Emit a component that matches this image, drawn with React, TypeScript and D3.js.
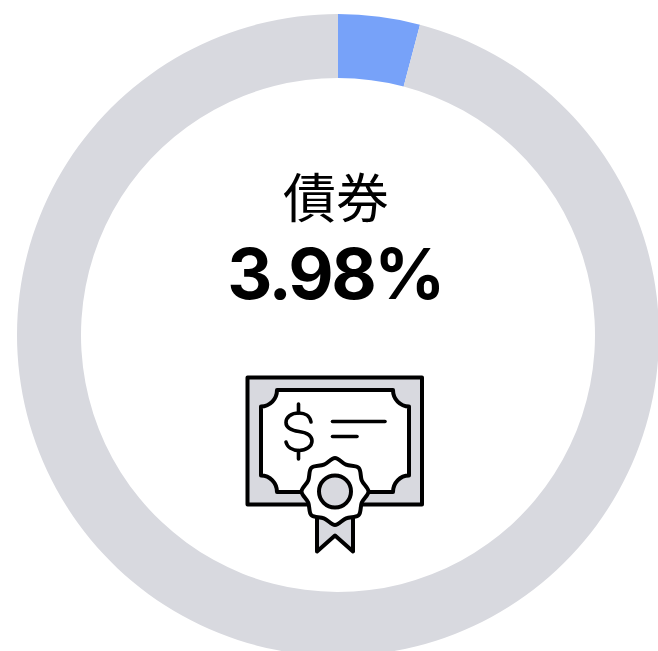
import React from "react";
import * as d3 from "d3";

const categoryLabel = "債券";
const shareLabel = "3.98%";
const sliceValues = [4.11, 95.89];
const sliceColors = ["#77a2f9", "#d8d9df"];
const INK = "#000";
const GREY = "#d8d9df";

const cx = 338;
const cy = 335;
const outer = 321;
const inner = 257;

function rosettePath(x: number, y: number, rOut: number, rIn: number, lobes: number) {
  const pts: [number, number][] = [];
  const n = lobes * 2;
  for (let i = 0; i < n; i++) {
    const a = -Math.PI / 2 + (i * Math.PI) / lobes;
    const r = i % 2 === 0 ? rOut : rIn;
    pts.push([x + r * Math.cos(a), y + r * Math.sin(a)]);
  }
  return d3.line().curve(d3.curveCardinalClosed.tension(0))(pts) as string;
}

export default function App() {
  const pie = d3.pie<number>().sort(null).value((d) => d);
  const arc = d3.arc<d3.PieArcDatum<number>>().innerRadius(inner).outerRadius(outer);
  const slices = pie(sliceValues);

  return (
    <svg
      width={658}
      height={651}
      style={{ position: "fixed", left: 0, top: 0, background: "#fff" }}
    >
      <g transform={`translate(${cx},${cy})`}>
        {slices.map((s, i) => (
          <path key={i} d={arc(s) as string} fill={sliceColors[i]} />
        ))}
      </g>
      <text
        x={336}
        y={217.5}
        textAnchor="middle"
        fontFamily="'Noto Sans CJK JP'"
        fontWeight={400}
        fontSize={53}
        fill="#000"
      >
        {categoryLabel}
      </text>
      <text
        x={335}
        y={299}
        textAnchor="middle"
        fontFamily="Inter"
        fontWeight={700}
        fontSize={70}
        letterSpacing={-2.6}
        fill="#000"
      >
        {shareLabel}
      </text>
      <g stroke={INK} strokeWidth={4} strokeLinejoin="round" strokeLinecap="round" fill="none">
        <rect x={247.5} y={377.5} width={174.5} height={127} fill={GREY} />
        <path
          d="M277 390H393C393 399 400 406.5 409 406.5V475.5C400 475.5 393 483 393 492H277C277 483 270 475.5 261 475.5V406.5C270 406.5 277 399 277 390Z"
          fill="#fff"
        />
        <path d="M317 515V551.5L335 535.5L353 551.5V515Z" fill={GREY} />
        <path d={rosettePath(335, 491.5, 33.5, 29, 8)} fill="#fff" />
        <circle cx={335} cy={491.5} r={16} fill={GREY} />
        <g strokeWidth={3.6}>
          <path d="M311 422C310 416 305 413 299 413C291 413 286 417 286 422.5C286 428.5 292 430.5 299 431.5C306 432.5 312 435 312 441C312 446.5 306 450.5 299 450.5C292 450.5 287 447 286 442" />
          <path d="M298.5 404V413M298.5 450.5V459" />
          <path d="M332.5 421.5H385" />
          <path d="M332.5 436.5H357" />
        </g>
      </g>
    </svg>
  );
}
